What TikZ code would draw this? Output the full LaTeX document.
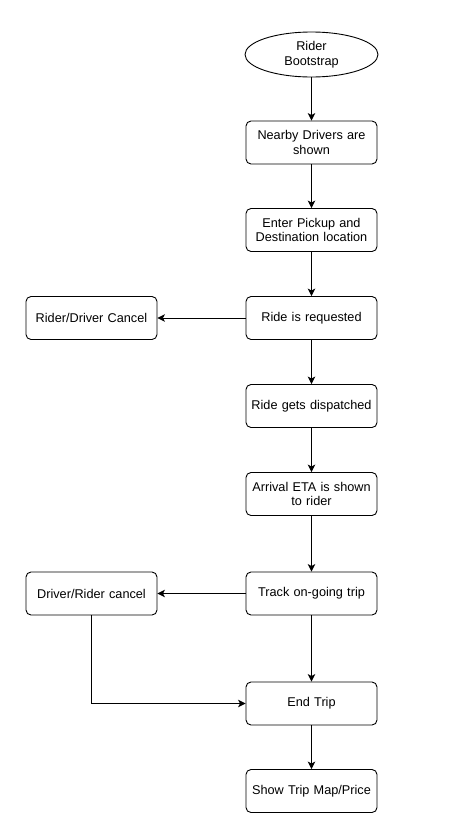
\documentclass[tikz,border=0pt]{standalone}
\usepackage{fontspec}
\setmainfont{Liberation Sans}
\usetikzlibrary{arrows.meta,shapes.geometric}
\begin{document}
\begin{tikzpicture}[x=1pt,y=-1pt,
  box/.style={draw,line width=0.9pt,rounded corners=5pt,minimum width=131pt,minimum height=43pt,inner sep=1pt,align=center,font=\fontsize{12.7}{14.5}\selectfont,text width=129pt},
  oval/.style={draw,line width=0.9pt,ellipse,minimum width=133pt,minimum height=45pt,inner sep=0pt,align=center,font=\fontsize{12.7}{14.5}\selectfont},
  conn/.style={line width=0.9pt,-{Stealth[length=7.5pt,width=7.5pt,inset=2pt]}}]
\useasboundingbox (0,0) rectangle (452,827);
\node[oval] (boot) at (311.5,54.5) {Rider\\Bootstrap};
\node[box] (nearby) at (311.5,142.5) {Nearby Drivers are\\shown};
\node[box] (enter) at (311.5,230) {Enter Pickup and\\Destination location};
\node[box] (req) at (311.5,318) {Ride is requested};
\node[box] (rdc) at (91.5,318) {Rider/Driver Cancel};
\node[box] (disp) at (311.5,406) {Ride gets dispatched};
\node[box] (eta) at (311.5,494) {Arrival ETA is shown\\to rider};
\node[box] (track) at (311.5,593.5) {Track on-going trip};
\node[box] (drc) at (91.5,593.5) {Driver/Rider cancel};
\node[box] (end) at (311.5,703.5) {End Trip};
\node[box] (show) at (311.5,791) {Show Trip Map/Price};
\draw[conn] (boot) -- (nearby);
\draw[conn] (nearby) -- (enter);
\draw[conn] (enter) -- (req);
\draw[conn] (req) -- (rdc);
\draw[conn] (req) -- (disp);
\draw[conn] (disp) -- (eta);
\draw[conn] (eta) -- (track);
\draw[conn] (track) -- (drc);
\draw[conn] (track) -- (end);
\draw[conn] (drc.south) |- (end.west);
\draw[conn] (end) -- (show);
\end{tikzpicture}
\end{document}
